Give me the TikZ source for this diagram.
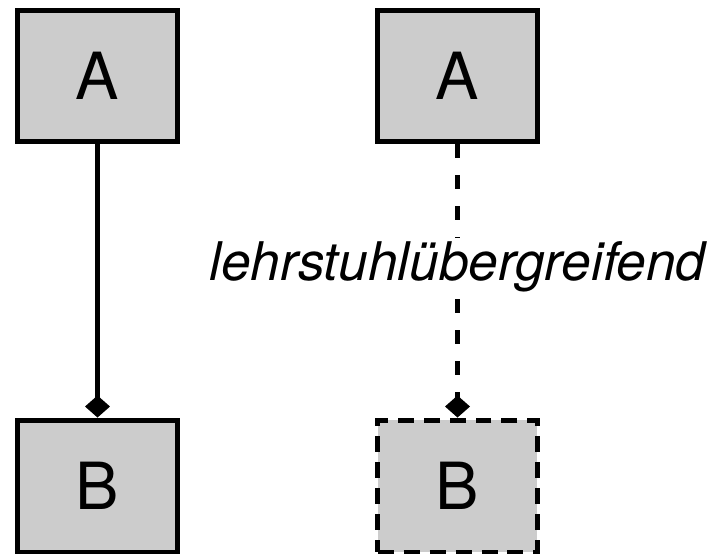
\documentclass[tikz,border=0pt]{standalone}
\usepackage{fontspec}
\setmainfont{TeX Gyre Heros}
\usetikzlibrary{arrows.meta}

\tikzset{
  classbox/.style={draw=black, fill=black!20, line width=0.1cm,
    minimum width=3.2cm, minimum height=2.64cm, inner sep=0pt,
    font=\fontsize{37}{40}\selectfont},
  composition/.style={line width=0.1cm, -{Diamond[length=0.44cm, width=0.5cm]}}
}

\begin{document}
\begin{tikzpicture}[x=0.02cm, y=-0.02cm]
\useasboundingbox (0,0) rectangle (716,555);

% left pair, plain composition
\node[classbox] (aLeft) at (97.5,76) {A};
\node[classbox] (bLeft) at (97.5,486) {B};
\draw[composition] (aLeft.south) -- (bLeft.north);

% right pair, cross-chair composition
\node[classbox] (aRight) at (457.5,76) {A};
\node[classbox, dash pattern=on 0.32cm off 0.2cm] (bRight) at (457.5,486) {B};
\draw[composition, dash pattern=on 0.28cm off 0.34cm] (aRight.south) -- (bRight.north);
\node[fill=white, inner sep=2pt, font=\fontsize{30.3}{34}\selectfont\itshape] (label) at (457.5,267) {lehrstuhlübergreifend};
\end{tikzpicture}
\end{document}
